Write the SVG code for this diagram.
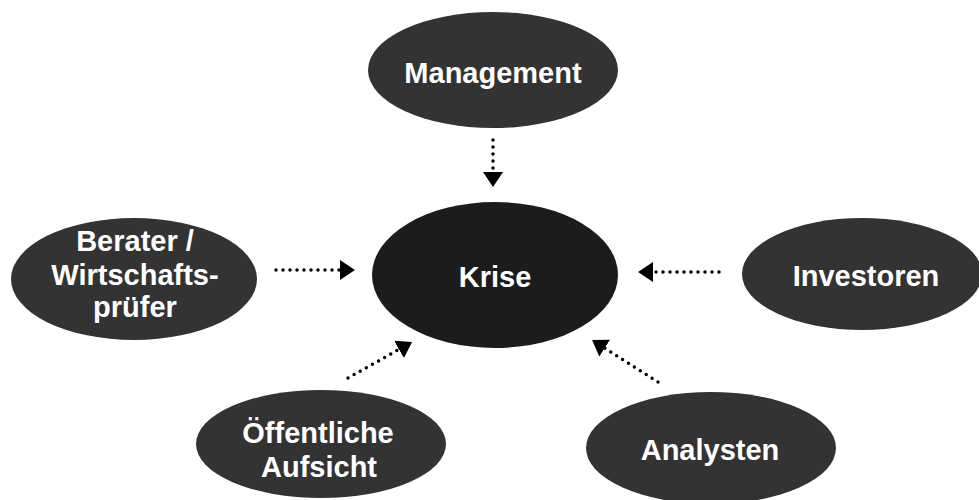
<svg xmlns="http://www.w3.org/2000/svg" width="979" height="500" viewBox="0 0 979 500">
<defs>
<style>
.node{fill:#333333}
.center{fill:#1c1c1c}
.lbl{font-family:"Liberation Sans",Arial,sans-serif;font-weight:bold;font-size:29px;fill:#ffffff;text-anchor:middle}
.con{stroke:#000;stroke-width:3.5;stroke-linecap:round;stroke-dasharray:0 7;fill:none}
</style>
<marker id="ah" viewBox="0 0 15 20" refX="0" refY="10" markerWidth="15" markerHeight="20" markerUnits="userSpaceOnUse" orient="auto">
<path d="M0,0 L15,10 L0,20 z" fill="#000"/>
</marker>
</defs>
<rect width="979" height="500" fill="#ffffff"/>
<g id="connectors">
<line class="con" x1="493" y1="140" x2="493" y2="172" marker-end="url(#ah)"/>
<line class="con" x1="276" y1="270" x2="340" y2="270" marker-end="url(#ah)"/>
<line class="con" x1="719" y1="272" x2="653" y2="272" marker-end="url(#ah)"/>
<line class="con" x1="348" y1="378" x2="399" y2="349.4" marker-end="url(#ah)"/>
<line class="con" x1="658" y1="382" x2="604.7" y2="348.1" marker-end="url(#ah)"/>
</g>
<g id="management">
<ellipse class="node" cx="493" cy="70" rx="125" ry="58"/>
<text class="lbl" x="493" y="83">Management</text>
</g>
<g id="krise">
<ellipse class="center" cx="495" cy="275" rx="123" ry="73"/>
<text class="lbl" x="495" y="287">Krise</text>
</g>
<g id="berater">
<ellipse class="node" cx="134" cy="279" rx="123" ry="61"/>
<text class="lbl" x="135" y="251">Berater /</text>
<text class="lbl" x="135" y="285">Wirtschafts-</text>
<text class="lbl" x="135" y="317">prüfer</text>
</g>
<g id="investoren">
<ellipse class="node" cx="862" cy="274" rx="120" ry="56"/>
<text class="lbl" x="866" y="286">Investoren</text>
</g>
<g id="oeffentliche">
<ellipse class="node" cx="321" cy="444" rx="125" ry="54"/>
<text class="lbl" x="318" y="443">Öffentliche</text>
<text class="lbl" x="319" y="477">Aufsicht</text>
</g>
<g id="analysten">
<ellipse class="node" cx="711" cy="448" rx="125" ry="56"/>
<text class="lbl" x="710" y="460">Analysten</text>
</g>
</svg>
